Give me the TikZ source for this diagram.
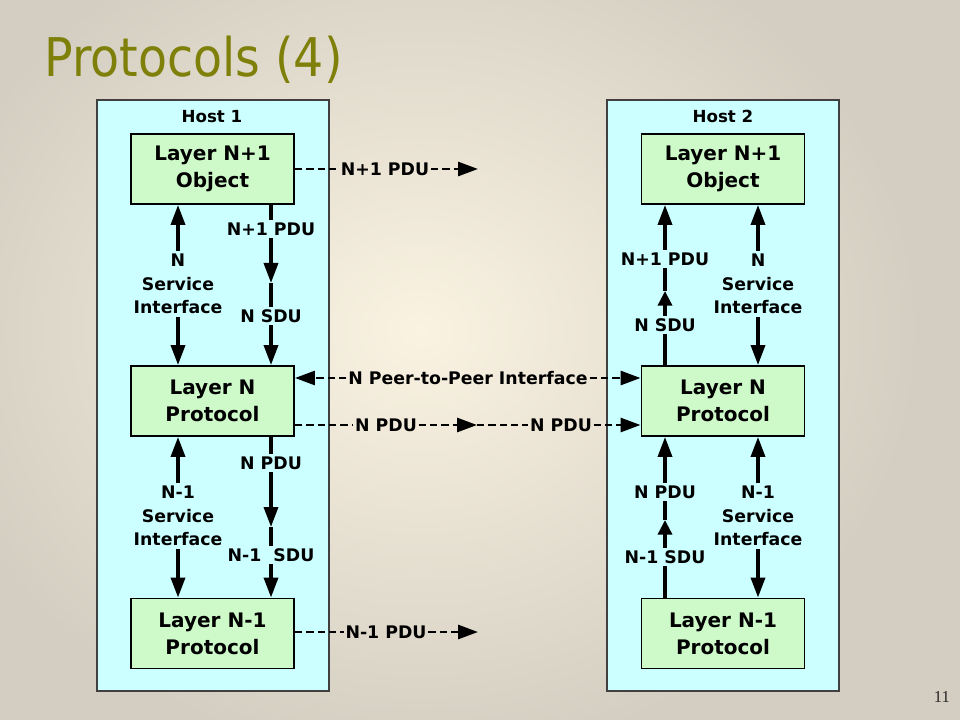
\documentclass[tikz,border=0pt]{standalone}
\usepackage{fontspec}
\setmainfont{DejaVu Sans}
\newfontfamily\pnfont{Liberation Serif}
\usetikzlibrary{arrows.meta}
\definecolor{bgin}{RGB}{250,243,226}
\definecolor{bgout}{RGB}{212,206,194}
\definecolor{hostcyan}{RGB}{204,255,255}
\definecolor{layergreen}{RGB}{206,250,202}
\definecolor{titleol}{RGB}{126,128,10}
\tikzset{
  tipA/.tip={Triangle[length=15pt,width=10.5pt]},
  tipS/.tip={Triangle[length=11pt,width=10.5pt]},
  hostbox/.style={draw=black!75, line width=1.1pt, fill=hostcyan, minimum width=174pt, minimum height=443.25pt, inner sep=0pt},
  hostlbl/.style={font=\bfseries\fontsize{12.5}{15}\selectfont},
  layerbox/.style={draw=black, line width=1.4pt, fill=layergreen, minimum width=122.25pt, minimum height=52.5pt, inner sep=0pt, align=center, font=\bfseries\fontsize{15}{20.2}\selectfont},
  lbl/.style={fill=hostcyan, inner xsep=1.2pt, inner ysep=2.2pt, align=center, font=\bfseries\fontsize{13}{17.6}\selectfont},
  dlbl/.style={inner sep=1.2pt, font=\bfseries\fontsize{13}{17.6}\selectfont},
  sarr/.style={line width=2.6pt, -tipA},
  sarrs/.style={line width=2.6pt, -tipS},
  dbl/.style={line width=2.6pt, tipA-tipA},
  dline/.style={line width=2.1pt, dash pattern=on 5.5pt off 3pt},
  darr/.style={dline, -tipA}
}
\begin{document}
\begin{tikzpicture}[x=0.75pt,y=-0.75pt]
\useasboundingbox (0,0) rectangle (960,720);
\shade[inner color=bgin, outer color=bgout] (-80,-100) rectangle (920,760);
\fill[bgout] (919,-100) rectangle (1000,760);
% title
\node[anchor=base west, text=titleol, inner sep=0pt, font=\fontsize{40}{48}\selectfont] (title) at (44,77) {\scalebox{0.89}[1]{Protocols (4)}};
\node[anchor=base, inner sep=0pt, text=black!85, font=\pnfont\fontsize{12.5}{15}\selectfont] (pagenum) at (942,702) {11};
% hosts
\node[hostbox] (host1) at (213,395.5) {};
\node[hostbox] (host2) at (723,395.5) {};
\node[hostlbl] (h1lbl) at (212,116.5) {Host 1};
\node[hostlbl] (h2lbl) at (723,116.5) {Host 2};
% layer boxes
\node[layerbox] (l1a) at (212.5,169) {Layer N+1\\Object};
\node[layerbox] (l1b) at (212.5,401) {Layer N\\Protocol};
\node[layerbox] (l1c) at (212.5,633.5) {Layer N-1\\Protocol};
\node[layerbox] (l2a) at (723,169) {Layer N+1\\Object};
\node[layerbox] (l2b) at (723,401) {Layer N\\Protocol};
\node[layerbox] (l2c) at (723,633.5) {Layer N-1\\Protocol};
% column coordinates
\coordinate (xA) at (178,0);
\coordinate (xB) at (271,0);
\coordinate (xC) at (665,0);
\coordinate (xD) at (758,0);
\coordinate (m1) at (271,283);
\coordinate (m2) at (271,527);
\coordinate (m3) at (665,291);
\coordinate (m4) at (665,520);
% Host 1 vertical connectors
\draw[dbl] (l1a.south -| xA) -- (l1b.north -| xA);
\draw[sarr] (l1a.south -| xB) -- (m1);
\draw[sarr] (m1) -- (l1b.north -| xB);
\draw[dbl] (l1b.south -| xA) -- (l1c.north -| xA);
\draw[sarr] (l1b.south -| xB) -- (m2);
\draw[sarr] (m2) -- (l1c.north -| xB);
\node[lbl] (s1a) at (178,284) {N\\Service\\Interface};
\node[lbl] (p1a) at (271,229) {N+1 PDU};
\node[lbl] (d1a) at (271,316) {N SDU};
\node[lbl] (s1b) at (178,516) {N-1\\Service\\Interface};
\node[lbl] (p1b) at (271,463) {N PDU};
\node[lbl] (d1b) at (271,555) {N-1\ \ SDU};
% Host 2 vertical connectors
\draw[sarrs] (l2b.north -| xC) -- (m3);
\draw[sarr] (m3) -- (l2a.south -| xC);
\draw[dbl] (l2a.south -| xD) -- (l2b.north -| xD);
\draw[sarrs] (l2c.north -| xC) -- (m4);
\draw[sarr] (m4) -- (l2b.south -| xC);
\draw[dbl] (l2b.south -| xD) -- (l2c.north -| xD);
\node[lbl] (p2a) at (665,259) {N+1 PDU};
\node[lbl] (d2a) at (665,325) {N SDU};
\node[lbl] (s2a) at (758,284) {N\\Service\\Interface};
\node[lbl] (p2b) at (665,492) {N PDU};
\node[lbl] (d2b) at (665,557) {N-1 SDU};
\node[lbl] (s2b) at (758,516) {N-1\\Service\\Interface};
% dashed horizontal connectors
\node[dlbl] (t1) at (385,169) {N+1 PDU};
\coordinate (e1) at (478,169);
\draw[dline] (l1a.east) -- (t1.west);
\draw[darr] (t1.east) -- (e1);
\node[dlbl] (p2p) at (468,378) {N Peer-to-Peer Interface};
\draw[darr] (p2p.west) -- (l1b.east |- p2p);
\draw[darr] (p2p.east) -- (l2b.west |- p2p);
\node[dlbl] (n1) at (386,425) {N PDU};
\node[dlbl] (n2) at (561,425) {N PDU};
\coordinate (e3) at (477,425);
\draw[dline] (l1b.east |- n1) -- (n1.west);
\draw[darr] (n1.east) -- (e3);
\draw[dline] (e3) -- (n2.west);
\draw[darr] (n2.east) -- (l2b.west |- n2);
\node[dlbl] (t4) at (386,632) {N-1 PDU};
\coordinate (e4) at (478,632);
\draw[dline] (l1c.east |- t4) -- (t4.west);
\draw[darr] (t4.east) -- (e4);
\end{tikzpicture}
\end{document}
